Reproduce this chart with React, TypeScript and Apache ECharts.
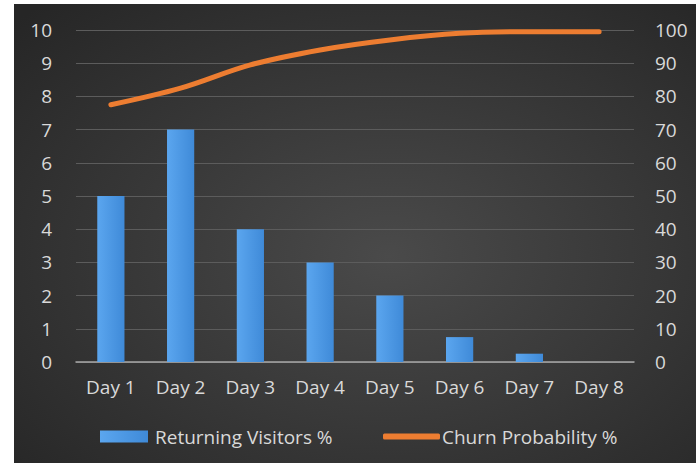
import React, { useEffect, useRef } from "react";
import * as echarts from "echarts";

const categories = ["Day 1", "Day 2", "Day 3", "Day 4", "Day 5", "Day 6", "Day 7", "Day 8"];
const returningVisitors = [5, 7, 4, 3, 2, 0.75, 0.25, 0];
const churnProbability = [77.5, 82.5, 89.5, 94, 97, 99, 99.5, 99.5];
const leftTicks = { min: 0, max: 10, interval: 1 };
const rightTicks = { min: 0, max: 100, interval: 10 };

const FONT = "Open Sans";
const TEXT = "#d9d9d9";
const FS = 19;

export default function App() {
  const ref = useRef<HTMLDivElement>(null);
  useEffect(() => {
    if (!ref.current) return;
    const chart = echarts.init(ref.current, undefined, { renderer: "svg" });
    chart.setOption({
      animation: false,
      backgroundColor: {
        type: "radial",
        x: 0.55,
        y: 0.55,
        r: 0.75,
        colorStops: [
          { offset: 0, color: "#4a4a4a" },
          { offset: 1, color: "#262626" },
        ],
      },
      textStyle: { fontFamily: FONT },
      grid: { left: 62, right: 62, top: 26, bottom: 101, containLabel: false },
      legend: [
        {
          data: ["Returning Visitors %"],
          left: 81,
          top: 418,
          icon: "rect",
          itemWidth: 48,
          itemHeight: 12,
          itemGap: 0,
          textStyle: { color: TEXT, fontSize: FS, fontFamily: FONT, padding: [0, 0, 0, 2] },
        },
        {
          data: ["Churn Probability %"],
          left: 364,
          top: 418,
          icon: "roundRect",
          itemWidth: 57,
          itemHeight: 6,
          textStyle: { color: TEXT, fontSize: FS, fontFamily: FONT, padding: [0, 0, 0, -3] },
        },
      ],
      xAxis: {
        type: "category",
        data: categories,
        axisTick: { show: false },
        axisLine: { show: true, lineStyle: { color: "#a8a8a8", width: 1.5 } },
        axisLabel: { color: TEXT, fontSize: FS, margin: 15, fontFamily: FONT },
      },
      yAxis: [
        {
          type: "value",
          min: leftTicks.min,
          max: leftTicks.max,
          interval: leftTicks.interval,
          axisLine: { show: false },
          axisTick: { show: false },
          axisLabel: { color: TEXT, fontSize: FS, margin: 24, fontFamily: FONT },
          splitLine: { lineStyle: { color: "#5c5c5c", width: 1 } },
        },
        {
          type: "value",
          min: rightTicks.min,
          max: rightTicks.max,
          interval: rightTicks.interval,
          axisLine: { show: false },
          axisTick: { show: false },
          axisLabel: { color: TEXT, fontSize: FS, margin: 21, fontFamily: FONT },
          splitLine: { show: false },
        },
      ],
      series: [
        {
          name: "Returning Visitors %",
          type: "bar",
          data: returningVisitors,
          barWidth: "39%",
          itemStyle: {
            color: {
              type: "linear",
              x: 0,
              y: 0,
              x2: 1,
              y2: 0,
              colorStops: [
                { offset: 0, color: "#5ba6ef" },
                { offset: 1, color: "#3f8ad8" },
              ],
            },
          },
        },
        {
          name: "Churn Probability %",
          type: "line",
          yAxisIndex: 1,
          data: churnProbability,
          smooth: 0.35,
          showSymbol: false,
          symbol: "none",
          lineStyle: { color: "#ed7d31", width: 5, cap: "round" },
          itemStyle: { color: "#ed7d31" },
        },
      ],
    });
    return () => chart.dispose();
  }, []);
  return (
    <div style={{ position: "fixed", left: 0, top: 0, width: 696, height: 464, background: "#ffffff" }}>
      <div ref={ref} style={{ position: "absolute", left: 14, top: 4, width: 682, height: 459 }} />
    </div>
  );
}
